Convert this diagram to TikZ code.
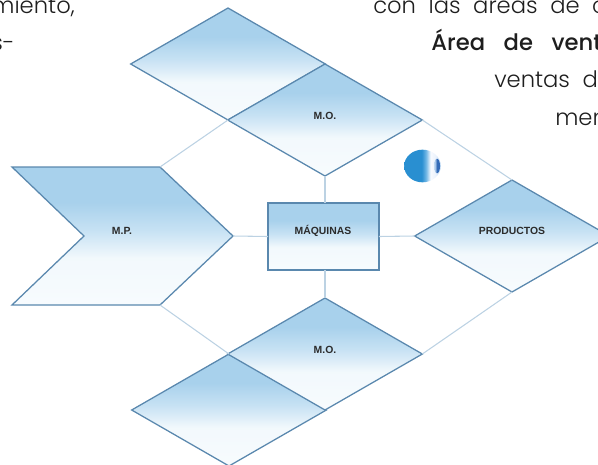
\documentclass[tikz,border=0pt]{standalone}
\usepackage{fontspec}
\setmainfont{Poppins}[UprightFont=* Light,BoldFont=* Medium]
\newfontfamily\labelfont{Liberation Sans}
\usetikzlibrary{positioning,shapes.geometric,calc}
\definecolor{edgeblue}{HTML}{5A88AE}
\definecolor{linkblue}{HTML}{BCD2E3}
\definecolor{labelgray}{HTML}{2B2B2B}
\definecolor{bodygray}{HTML}{1E1E1E}
\newcommand{\widegap}{\hspace{0.28em}}
\pgfdeclareverticalshading{boxfade}{100bp}{rgb(0bp)=(0.97,0.985,0.995); rgb(25bp)=(0.97,0.985,0.995); rgb(42bp)=(0.95,0.975,0.99); rgb(52bp)=(0.78,0.885,0.955); rgb(62bp)=(0.66,0.82,0.925); rgb(100bp)=(0.66,0.82,0.925)}
\pgfdeclarehorizontalshading{ballfade}{100bp}{rgb(0bp)=(0.16,0.56,0.82); rgb(49bp)=(0.16,0.56,0.82); rgb(55bp)=(0.45,0.72,0.9); rgb(61bp)=(0.97,0.98,1); rgb(68bp)=(0.92,0.95,0.99); rgb(75bp)=(0.7,0.82,0.94); rgb(100bp)=(0.7,0.82,0.94)}
\pgfdeclarehorizontalshading{pupilfade}{100bp}{rgb(0bp)=(0.75,0.85,0.95); rgb(30bp)=(0.75,0.85,0.95); rgb(50bp)=(0.2,0.42,0.72); rgb(100bp)=(0.2,0.42,0.72)}
\tikzset{
  fadebox/.style={draw=edgeblue,line width=0.95pt,shade,shading=boxfade,outer sep=0pt,inner sep=0pt},
  rhombus/.style={fadebox,shape=diamond,minimum width=146pt,minimum height=84pt},
  link/.style={draw=linkblue,line width=0.8pt},
  tag/.style={font=\labelfont\bfseries\fontsize{7.8}{9}\selectfont,text=labelgray,inner sep=0pt},
  bodytext/.style={font=\fontsize{17}{20}\selectfont,text=bodygray,inner sep=0pt,anchor=base west},
  bodyend/.style={bodytext,anchor=base east}
}
\begin{document}
\begin{tikzpicture}[x=0.75pt,y=0.75pt,yscale=-1,xscale=1]
        \useasboundingbox (0,0) rectangle (598,464);
        \coordinate (mptop) at (160,167);
        \coordinate (mptip) at (233,236);
        \coordinate (mpbot) at (160,305);
        \coordinate (mpbackbot) at (12,305);
        \coordinate (mpnotch) at (84,236);
        \coordinate (mpbacktop) at (12,167);
        %Shape: Rhombus
        \node (upblank) at (228,64) [rhombus] {};
        \node (upmo) at (325,120) [rhombus] {};
        \node (lowblank) at (229,410) [rhombus] {};
        \node (lowmo) at (325,354) [rhombus] {};
        \node (prod) at (512,236) [rhombus] {};
        %Shape: Rectangle
        \node (maq) at (323.5,236.5) [fadebox,line width=1.15pt,minimum width=83pt,minimum height=50pt] {};
        %Shape: Chevron
        \path [fadebox] (mpbacktop) -- (mptop) -- (mptip) -- (mpbot) -- (mpbackbot) -- (mpnotch) -- cycle;
        %Straight Lines
        \draw [link] (mptop) -- (upblank.south);
        \draw [link] (mpbot) -- (lowblank.north);
        \draw [link] (upmo.south) -- (upmo.south |- maq.north);
        \draw [link] (lowmo.north |- maq.south) -- (lowmo.north);
        \draw [link] (mptip) -- (maq.west);
        \draw [link] (maq.east) -- (prod.west);
        \draw [link] (upmo.east) -- (prod.north);
        \draw [link] (lowmo.east) -- (prod.south);
        % Text Node
        \node at (325,116) [tag] {M.O.};
        \node at (325,349.5) [tag] {M.O.};
        \node at (122,231) [tag] {M.P.};
        \node at (323,231) [tag] {MÁQUINAS};
        \node at (512,231) [tag] {PRODUCTOS};
        % Ball
        \node (ball) at (422.5,166) [shape=ellipse,shade,shading=ballfade,minimum width=27.5pt,minimum height=24.5pt,inner sep=0pt] {};
        \node (pupil) at (437,166) [shape=ellipse,shade,shading=pupilfade,minimum width=4.5pt,minimum height=11pt,inner sep=0pt] {};
        % Text Node
        \node at (75,13) [bodyend] {miento,};
        \node at (15,50) [bodyend] {s-};
        \node at (373,13) [bodytext] {con\widegap{} las\widegap{} áreas\widegap{} de\widegap{} c};
        \node at (431,50) [bodytext] {\bfseries Área\widegap\widegap{} de\widegap\widegap{} vent};
        \node at (494,87) [bodytext] {ventas\widegap{} de};
        \node at (555,125) [bodytext] {men};
\end{tikzpicture}
\end{document}
